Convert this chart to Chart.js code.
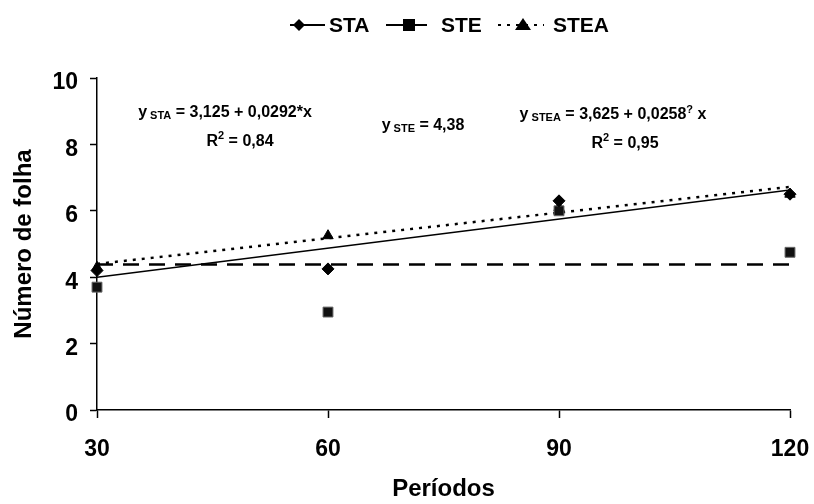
<!DOCTYPE html>
<html>
<head>
<meta charset="utf-8">
<script src="https://cdn.jsdelivr.net/npm/chart.js@4"></script>
<style>
  html, body { margin: 0; padding: 0; background: #fff; }
  #wrap { width: 814px; height: 504px; }
</style>
</head>
<body>
<div id="wrap"><canvas id="chart" width="814" height="504"></canvas></div>
<script>
const periods = [30, 60, 90, 120];
const staValues = [4.2, 4.25, 6.3, 6.5];
const steValues = [3.7, 2.95, 6.0, 4.75];
const steaValues = [4.3, 5.25, 6.1, 6.5];

// trend lines (ends)
const trendX = [30, 120];
const staTrend = [4.0, 6.63];
const steTrend = [4.38, 4.38];
const steaTrend = [4.4, 6.72];

const yTicks = [0, 2, 4, 6, 8, 10];

const FONT = 'Liberation Sans, Arial, sans-serif';

function pts(xs, ys) {
  return xs.map((x, i) => ({ x: x, y: ys[i] }));
}

// text with a small subscript, e.g. y STA = ...
function drawEq(ctx, cx, cy, parts) {
  let total = 0;
  parts.forEach(p => {
    ctx.font = `bold ${p.size}px ${FONT}`;
    p.w = ctx.measureText(p.t).width;
    total += p.w;
  });
  let x = cx - total / 2;
  ctx.textAlign = 'left';
  ctx.textBaseline = 'alphabetic';
  parts.forEach(p => {
    ctx.font = `bold ${p.size}px ${FONT}`;
    ctx.fillText(p.t, x, cy + (p.dy || 0));
    x += p.w;
  });
}

function drawMarker(ctx, type, x, y) {
  ctx.beginPath();
  if (type === 'diamond') {
    ctx.moveTo(x, y - 6); ctx.lineTo(x + 6, y); ctx.lineTo(x, y + 6); ctx.lineTo(x - 6, y);
  } else if (type === 'square') {
    ctx.rect(x - 6, y - 6, 12, 12);
  } else {
    ctx.moveTo(x, y - 7); ctx.lineTo(x + 8, y + 5); ctx.lineTo(x - 8, y + 5);
  }
  ctx.closePath();
  ctx.fill();
}

const annotations = {
  id: 'annotations',
  afterDraw(chart) {
    const ctx = chart.ctx;
    ctx.save();
    ctx.fillStyle = '#000';
    ctx.strokeStyle = '#000';

    // legend
    const ly = 25;
    ctx.lineWidth = 2;
    ctx.setLineDash([]);
    ctx.beginPath(); ctx.moveTo(290, ly); ctx.lineTo(325, ly); ctx.stroke();
    drawMarker(ctx, 'diamond', 299, ly);
    ctx.beginPath(); ctx.moveTo(386, ly); ctx.lineTo(427, ly); ctx.stroke();
    drawMarker(ctx, 'square', 409, ly);
    ctx.setLineDash([3, 6]);
    ctx.beginPath(); ctx.moveTo(498, ly); ctx.lineTo(544, ly); ctx.stroke();
    ctx.setLineDash([]);
    drawMarker(ctx, 'triangle', 523, ly);
    ctx.font = `bold 21px ${FONT}`;
    ctx.textBaseline = 'middle';
    ctx.textAlign = 'left';
    ctx.fillText('STA', 329, ly + 1);
    ctx.fillText('STE', 441, ly + 1);
    ctx.fillText('STEA', 553, ly + 1);

    // equations
    drawEq(ctx, 225, 117, [
      { t: 'y', size: 16 }, { t: ' STA', size: 11, dy: 2 }, { t: ' = 3,125 + 0,0292*x', size: 16 }
    ]);
    drawEq(ctx, 240, 146, [
      { t: 'R', size: 16 }, { t: '2', size: 11, dy: -7 }, { t: ' = 0,84', size: 16 }
    ]);
    drawEq(ctx, 423, 130, [
      { t: 'y', size: 16 }, { t: ' STE', size: 11, dy: 2 }, { t: ' = 4,38', size: 16 }
    ]);
    drawEq(ctx, 613, 119, [
      { t: 'y', size: 16 }, { t: ' STEA', size: 11, dy: 2 }, { t: ' = 3,625 + 0,0258', size: 16 },
      { t: '?', size: 11, dy: -6 }, { t: ' x', size: 16 }
    ]);
    drawEq(ctx, 625, 148, [
      { t: 'R', size: 16 }, { t: '2', size: 11, dy: -7 }, { t: ' = 0,95', size: 16 }
    ]);
    ctx.restore();
  }
};

const ctx = document.getElementById('chart').getContext('2d');
new Chart(ctx, {
  type: 'scatter',
  data: {
    datasets: [
      {
        label: 'STA linha', data: pts(trendX, staTrend), showLine: true,
        borderColor: '#000', borderWidth: 1.5, pointRadius: 0, order: 5
      },
      {
        label: 'STE linha', data: pts(trendX, steTrend), showLine: true,
        borderColor: '#000', borderWidth: 2.5, borderDash: [16, 10], pointRadius: 0, order: 5
      },
      {
        label: 'STEA linha', data: pts(trendX, steaTrend), showLine: true,
        borderColor: '#000', borderWidth: 2.5, borderDash: [3, 6], pointRadius: 0, order: 5
      },
      {
        label: 'STA', data: pts(periods, staValues), pointStyle: 'rectRot', clip: false,
        pointRadius: 6, backgroundColor: '#000', borderColor: '#000', order: 1
      },
      {
        label: 'STE', data: pts(periods, steValues), pointStyle: 'rect', clip: false,
        pointRadius: 7, backgroundColor: '#111', borderColor: '#666', borderWidth: 1, order: 2
      },
      {
        label: 'STEA', data: pts(periods, steaValues), pointStyle: 'triangle', clip: false,
        pointRadius: 6, backgroundColor: '#000', borderColor: '#000', order: 3
      }
    ]
  },
  options: {
    responsive: false,
    animation: false,
    layout: { padding: { top: 78, right: 24, left: 0, bottom: 0 } },
    plugins: {
      legend: { display: false },
      tooltip: { enabled: false }
    },
    scales: {
      x: {
        type: 'linear',
        min: 30, max: 120,
        afterBuildTicks: s => { s.ticks = periods.map(v => ({ value: v })); },
        afterFit: s => { s.height = 94; s.paddingLeft = 0; s.paddingRight = 0; },
        grid: { drawOnChartArea: false, color: '#000', tickLength: 8, tickWidth: 1.5 },
        border: { color: '#000', width: 1.5 },
        ticks: { color: '#000', padding: 18, font: { family: FONT, size: 23, weight: 'bold' } },
        title: {
          display: true, text: 'Períodos', color: '#000',
          padding: { top: 0, bottom: 0 },
          font: { family: FONT, size: 24, weight: 'bold' }
        }
      },
      y: {
        min: 0, max: 10,
        afterBuildTicks: s => { s.ticks = yTicks.map(v => ({ value: v })); },
        afterFit: s => { s.width = 97; s.paddingTop = 0; s.paddingBottom = 0; },
        grid: { drawOnChartArea: false, color: '#000', tickLength: 7, tickWidth: 1.5 },
        border: { color: '#000', width: 1.5 },
        ticks: { color: '#000', padding: 12, labelOffset: 5, font: { family: FONT, size: 23, weight: 'bold' } },
        title: {
          display: true, text: 'Número de folha', color: '#000',
          padding: { top: 10, bottom: 2 },
          font: { family: FONT, size: 24, weight: 'bold' }
        }
      }
    }
  },
  plugins: [annotations]
});
</script>
</body>
</html>
